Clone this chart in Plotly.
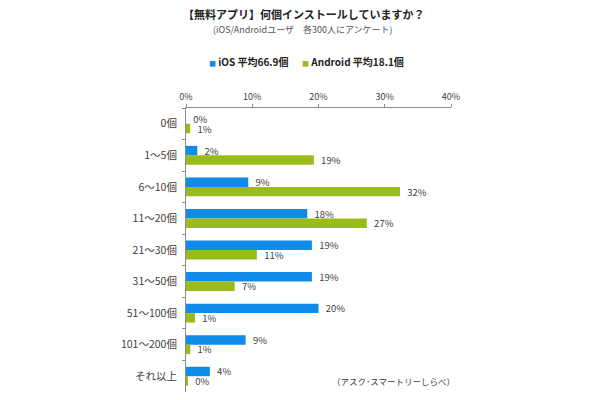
import plotly.graph_objects as go

categories = ["0個", "1～5個", "6～10個", "11～20個", "21～30個", "31～50個", "51～100個", "101～200個", "それ以上"]
ios_values = [0.0, 1.7, 9.4, 18.3, 19.0, 19.0, 20.0, 9.0, 3.6]
android_values = [0.65, 19.3, 32.3, 27.3, 10.7, 7.35, 1.35, 0.65, 0.3]
ios_labels = ["0%", "2%", "9%", "18%", "19%", "19%", "20%", "9%", "4%"]
android_labels = ["1%", "19%", "32%", "27%", "11%", "7%", "1%", "1%", "0%"]
x_ticks = [0, 10, 20, 30, 40]
x_tick_labels = ["0%", "10%", "20%", "30%", "40%"]

BLUE = "#0f8be8"
GREEN = "#99bb1c"
TEXT = "#404040"
FONT = "Noto Sans CJK JP"
PAD = "\u00a0\u00a0"

# page pixel -> paper fraction (plot area spans x 186..451, y 108..392 on the page)
def px(x):
    return (x - 186) / 265
def py(y):
    return (392 - y) / 284

fig = go.Figure()
for name, vals, labs, col in [("iOS", ios_values, ios_labels, BLUE), ("Android", android_values, android_labels, GREEN)]:
    fig.add_trace(go.Bar(
        y=categories, x=vals, orientation="h", name=name, marker=dict(color=col, line_width=0),
        text=[PAD + l for l in labs], textposition="outside", cliponaxis=False, constraintext="none",
        textfont=dict(size=9.5, color=TEXT, family=FONT), showlegend=False,
    ))

def ann(text, x, y, size, color, anchor="center"):
    return dict(text=text, xref="paper", yref="paper", x=px(x), y=py(y), xanchor=anchor, yanchor="middle",
                showarrow=False, font=dict(size=size, color=color, family=FONT))

legend_text = (f'<b><span style="color:{BLUE};font-size:7px">■</span> iOS 平均66.9個'
               f'\u00a0\u00a0\u00a0\u00a0\u00a0\u00a0<span style="color:{GREEN};font-size:7px">■</span> Android 平均18.1個</b>')

fig.update_layout(
    width=610, height=400, autosize=False,
    paper_bgcolor="white", plot_bgcolor="white",
    margin=dict(l=186, r=159, t=108, b=8, pad=0),
    barmode="group", bargap=0.4, bargroupgap=0,
    font=dict(family=FONT, color=TEXT, size=10),
    showlegend=False,
    annotations=[
        ann("<b>【無料アプリ】何個インストールしていますか？</b>", 303, 14, 11, "#222222"),
        ann("(iOS/Androidユーザ　各300人にアンケート)", 303, 29, 9, "#555555"),
        ann(legend_text, 306, 61, 10, "#222222"),
        ann("（アスク･スマートリーしらべ）", 457, 381, 8.5, TEXT, "right"),
    ],
)
fig.update_xaxes(
    side="top", range=[0, 40], tickvals=x_ticks, ticktext=x_tick_labels,
    showgrid=False, zeroline=False, showline=True, linecolor="#8c8c8c", linewidth=1,
    ticks="outside", ticklen=3, tickcolor="#8c8c8c", tickfont=dict(size=9, color=TEXT),
)
fig.update_yaxes(
    type="category", categoryorder="array", categoryarray=categories, autorange="reversed",
    showgrid=False, zeroline=False, showline=True, linecolor="#8c8c8c", linewidth=1,
    ticks="outside", ticklen=3, tickcolor="#8c8c8c", tickson="boundaries",
    tickfont=dict(size=10.5, color=TEXT), ticklabelstandoff=6,
)
fig.write_html("out.html", post_script="document.body.style.margin='0';", config={"displayModeBar": False})
